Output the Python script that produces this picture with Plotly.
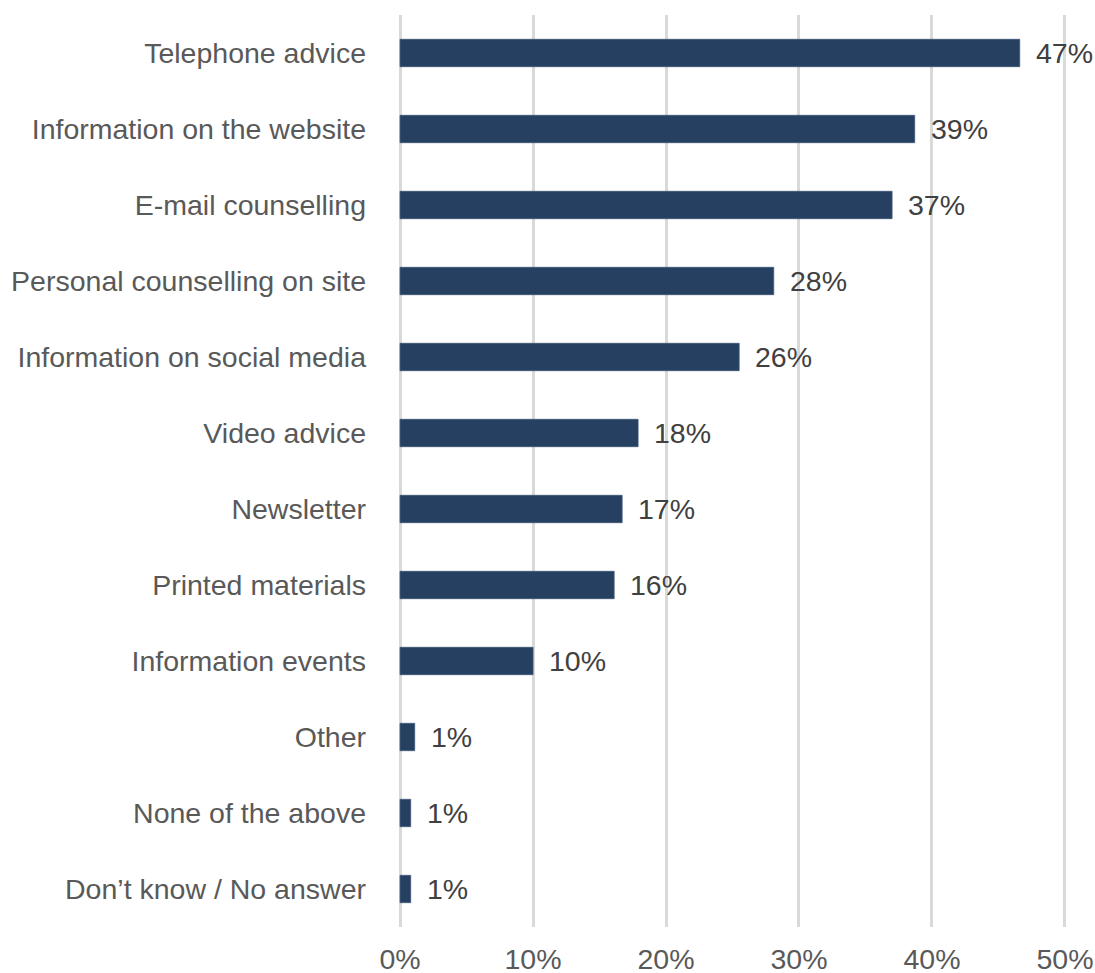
import plotly.graph_objects as go

# Share of respondents using each information channel (%)
categories = [
    "Telephone advice",
    "Information on the website",
    "E-mail counselling",
    "Personal counselling on site",
    "Information on social media",
    "Video advice",
    "Newsletter",
    "Printed materials",
    "Information events",
    "Other",
    "None of the above",
    "Don\u2019t know / No answer",
]
shares = [46.6, 38.7, 37.0, 28.1, 25.5, 17.9, 16.7, 16.1, 10.0, 1.1, 0.8, 0.8]
tick_values = [0, 10, 20, 30, 40, 50]
tick_labels = ["0%", "10%", "20%", "30%", "40%", "50%"]

BAR_COLOR = "#264061"
FONT = "Liberation Sans, Arial, sans-serif"
TEXT_SIZE = 28.5

fig = go.Figure(
    go.Bar(
        x=shares,
        y=categories,
        orientation="h",
        marker=dict(color=BAR_COLOR, line=dict(color="#3c5677", width=0.8)),
        width=0.36,
        hoverinfo="skip",
    )
)

# value labels just right of each bar
for cat, val in zip(categories, shares):
    fig.add_annotation(
        x=val,
        y=cat,
        text=f"{round(val):.0f}%",
        showarrow=False,
        xanchor="left",
        yanchor="middle",
        xshift=14,
        font=dict(family=FONT, size=TEXT_SIZE, color="#404040"),
    )

fig.update_layout(
    width=1095,
    height=973,
    margin=dict(l=399, r=29, t=15, b=46),
    paper_bgcolor="white",
    plot_bgcolor="white",
    showlegend=False,
    font=dict(family=FONT, size=TEXT_SIZE, color="#595959"),
    xaxis=dict(
        range=[-0.08, 50.08],
        tickvals=tick_values,
        ticktext=tick_labels,
        showgrid=True,
        gridcolor="#d9d9d9",
        gridwidth=2.5,
        zeroline=False,
        showline=False,
        ticks="",
        ticklabelstandoff=12,
        automargin=False,
        tickfont=dict(family=FONT, size=TEXT_SIZE, color="#595959"),
        fixedrange=True,
    ),
    yaxis=dict(
        categoryorder="array",
        categoryarray=categories[::-1],
        showgrid=False,
        zeroline=False,
        showline=False,
        ticks="",
        ticklabelstandoff=32,
        automargin=False,
        tickfont=dict(family=FONT, size=TEXT_SIZE, color="#595959"),
        fixedrange=True,
    ),
)

fig.write_html("out.html")
